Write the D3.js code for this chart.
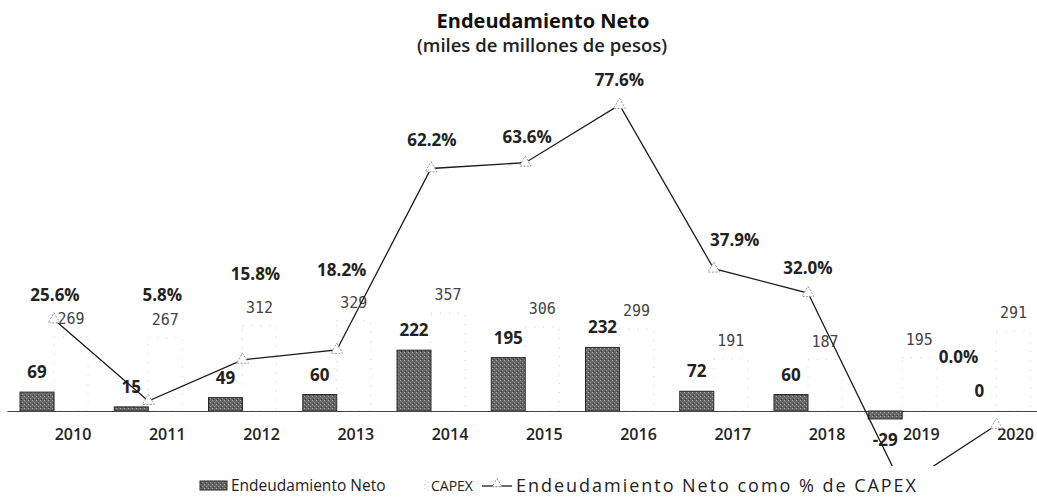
<!DOCTYPE html>
<html>
<head>
<meta charset="utf-8">
<script src="https://cdn.jsdelivr.net/npm/d3@7"></script>
<style>
	body { margin: 0; background: #ffffff; }
	svg { display: block; font-family: "Open Sans", sans-serif; }
	.titulo { font-size: 20px; font-weight: 700; fill: #111; }
	.subtitulo { font-size: 18.5px; font-weight: 600; fill: #222; }
	.etiquetaBarra { font-size: 17px; font-weight: 700; fill: #222; }
	.etiquetaCapex { font-family: "DejaVu Sans Mono", monospace; font-size: 15px; fill: #444; }
	.etiquetaPct { font-size: 17px; font-weight: 700; fill: #222; }
	.axis text { font-family: "Open Sans", sans-serif; font-size: 16px; font-weight: 600; fill: #222; }
	.leyenda { font-size: 15.5px; fill: #222; }
</style>
</head>
<body>
<div id="containerChart"></div>
<script>

// valores (miles de millones de pesos)
var years = ["2010", "2011", "2012", "2013", "2014", "2015", "2016", "2017", "2018", "2019", "2020"];
var endeudamiento = [69, 15, 49, 60, 222, 195, 232, 72, 60, -29, 0];
var capex = [269, 267, 312, 329, 357, 306, 299, 191, 187, 195, 291];
var porcentaje = [25.6, 5.8, 15.8, 18.2, 62.2, 63.6, 77.6, 37.9, 32.0, -14.9, 0.0];

// desplazamiento de las etiquetas de porcentaje (como quedaron en el original)
var pctLabelOffset = [[1, -24], [14, -106], [13, -86], [5, -80], [1, -28], [2, -26],
	[0, -25], [21, -29], [0, -25], null, [-38, -68]];

var width = 1037;
var height = 498;
var barWidth = 34;

function drawChart() {

	var svg = d3.select("#containerChart")
		.append("svg")
		.attr("width", width)
		.attr("height", height);

	// relleno con textura para las barras de endeudamiento
	var pattern = svg.append("defs").append("pattern")
		.attr("id", "textura")
		.attr("width", 4)
		.attr("height", 4)
		.attr("patternUnits", "userSpaceOnUse");
	pattern.append("rect").attr("width", 4).attr("height", 4).attr("fill", "#666");
	pattern.append("rect").attr("x", 0).attr("y", 0).attr("width", 1).attr("height", 1).attr("fill", "#aaa");
	pattern.append("rect").attr("x", 2).attr("y", 2).attr("width", 1).attr("height", 1).attr("fill", "#999");
	pattern.append("rect").attr("x", 1).attr("y", 3).attr("width", 1).attr("height", 1).attr("fill", "#333");

	// escalas
	var x = d3.scaleBand()
		.domain(years)
		.range([6.9, 1043.6])
		.padding(0);
	var yBar = d3.scaleLinear()
		.domain([0, 100])
		.range([411, 383.6]);
	var yPct = d3.scaleLinear()
		.domain([0, 10])
		.range([425, 383.76]);

	function center(i) {
		return x(years[i]) + x.bandwidth() / 2;
	}

	// titulo
	svg.append("text")
		.attr("class", "titulo")
		.attr("x", 543)
		.attr("y", 28)
		.style("text-anchor", "middle")
		.text("Endeudamiento Neto");
	svg.append("text")
		.attr("class", "subtitulo")
		.attr("x", 542)
		.attr("y", 52)
		.style("text-anchor", "middle")
		.text("(miles de millones de pesos)");

	// barras capex (casi invisibles, solo contorno punteado)
	svg.selectAll(".capex")
		.data(capex)
		.enter()
		.append("rect")
		.attr("class", "capex")
		.attr("x", function(d, i) { return center(i); })
		.attr("y", function(d) { return yBar(d); })
		.attr("width", barWidth)
		.attr("height", function(d) { return yBar(0) - yBar(d); })
		.style("fill", "none")
		.style("stroke", "#cfcfcf")
		.style("stroke-width", 1)
		.style("stroke-dasharray", "1,8");

	// barras endeudamiento neto
	svg.selectAll(".endeudamiento")
		.data(endeudamiento)
		.enter()
		.append("rect")
		.attr("class", "endeudamiento")
		.attr("x", function(d, i) { return center(i) - barWidth; })
		.attr("y", function(d) { return yBar(Math.max(d, 0)); })
		.attr("width", barWidth)
		.attr("height", function(d) { return Math.abs(yBar(0) - yBar(d)); })
		.style("fill", "url(#textura)")
		.style("stroke", "#2a2a2a")
		.style("stroke-width", 1);

	// eje x (linea base en cero)
	var xAxis = d3.axisBottom(x)
		.tickSize(0)
		.tickSizeOuter(0)
		.tickPadding(18);
	var axisG = svg.append("g")
		.attr("class", "axis")
		.attr("transform", "translate(0," + yBar(0) + ")")
		.call(xAxis);
	axisG.select(".domain")
		.style("stroke", "#444")
		.style("stroke-width", 1.2);
	axisG.selectAll("text")
		.attr("dx", 19);

	// etiquetas de endeudamiento
	svg.selectAll(".etiquetaBarra")
		.data(endeudamiento)
		.enter()
		.append("text")
		.attr("class", "etiquetaBarra")
		.attr("x", function(d, i) { return center(i) - barWidth / 2; })
		.attr("y", function(d) {
			if (d < 0) {
				return yBar(d) + 27;
			}
			return yBar(d) - 14;
		})
		.style("text-anchor", "middle")
		.text(function(d) { return d; });

	// etiquetas de capex
	svg.selectAll(".etiquetaCapex")
		.data(capex)
		.enter()
		.append("text")
		.attr("class", "etiquetaCapex")
		.attr("x", function(d, i) { return center(i) + barWidth / 2; })
		.attr("y", function(d) { return yBar(d) - 13; })
		.style("text-anchor", "middle")
		.text(function(d) { return d; });

	// linea de porcentaje
	var line = d3.line()
		.x(function(d, i) { return center(i); })
		.y(function(d) { return yPct(d); });
	svg.append("path")
		.datum(porcentaje)
		.attr("d", line)
		.style("fill", "none")
		.style("stroke", "#1a1a1a")
		.style("stroke-width", 1.3);

	svg.selectAll(".marcador")
		.data(porcentaje)
		.enter()
		.append("path")
		.attr("class", "marcador")
		.attr("d", d3.symbol().type(d3.symbolTriangle).size(60))
		.attr("transform", function(d, i) {
			return "translate(" + center(i) + "," + yPct(d) + ")";
		})
		.style("fill", "#fff")
		.style("stroke", "#999")
		.style("stroke-width", 1)
		.style("stroke-dasharray", "2,1.5");

	// etiquetas de porcentaje (la de 2019 queda fuera del grafico)
	var pctIndex = d3.range(porcentaje.length).filter(function(i) { return pctLabelOffset[i] != null; });
	svg.selectAll(".etiquetaPct")
		.data(pctIndex)
		.enter()
		.append("text")
		.attr("class", "etiquetaPct")
		.attr("x", function(i) { return center(i) + pctLabelOffset[i][0]; })
		.attr("y", function(i) { return yPct(porcentaje[i]) + pctLabelOffset[i][1] + 6; })
		.style("text-anchor", "middle")
		.text(function(i) { return porcentaje[i].toFixed(1) + "%"; });

	addLegend(svg);
};

// leyenda con fondo blanco (tapa la parte baja de la linea)
function addLegend(svg) {

	var legend = svg.append("g")
		.attr("class", "legendBox");

	legend.append("rect")
		.attr("x", 192)
		.attr("y", 466)
		.attr("width", 750)
		.attr("height", 32)
		.style("fill", "#fff");

	legend.append("rect")
		.attr("x", 200)
		.attr("y", 481)
		.attr("width", 27)
		.attr("height", 9)
		.style("fill", "url(#textura)")
		.style("stroke", "#2a2a2a");
	legend.append("text")
		.attr("class", "leyenda")
		.attr("x", 231)
		.attr("y", 491)
		.text("Endeudamiento Neto");

	legend.append("rect")
		.attr("x", 425)
		.attr("y", 481)
		.attr("width", 3)
		.attr("height", 9)
		.style("fill", "none")
		.style("stroke", "#bbb")
		.style("stroke-dasharray", "1,3");
	legend.append("text")
		.attr("class", "leyenda")
		.attr("x", 431)
		.attr("y", 491)
		.style("font-size", "14px")
		.text("CAPEX");

	legend.append("line")
		.attr("x1", 482)
		.attr("x2", 512)
		.attr("y1", 486)
		.attr("y2", 486)
		.style("stroke", "#1a1a1a")
		.style("stroke-width", 1.3);
	legend.append("path")
		.attr("d", d3.symbol().type(d3.symbolTriangle).size(40))
		.attr("transform", "translate(497,484)")
		.style("fill", "#fff")
		.style("stroke", "#999")
		.style("stroke-dasharray", "2,1.5");
	legend.append("text")
		.attr("class", "leyenda")
		.attr("x", 516)
		.attr("y", 492)
		.attr("textLength", 400)
		.attr("lengthAdjust", "spacing")
		.style("font-size", "18px")
		.text("Endeudamiento Neto como % de CAPEX");
};

drawChart();

</script>
</body>
</html>
